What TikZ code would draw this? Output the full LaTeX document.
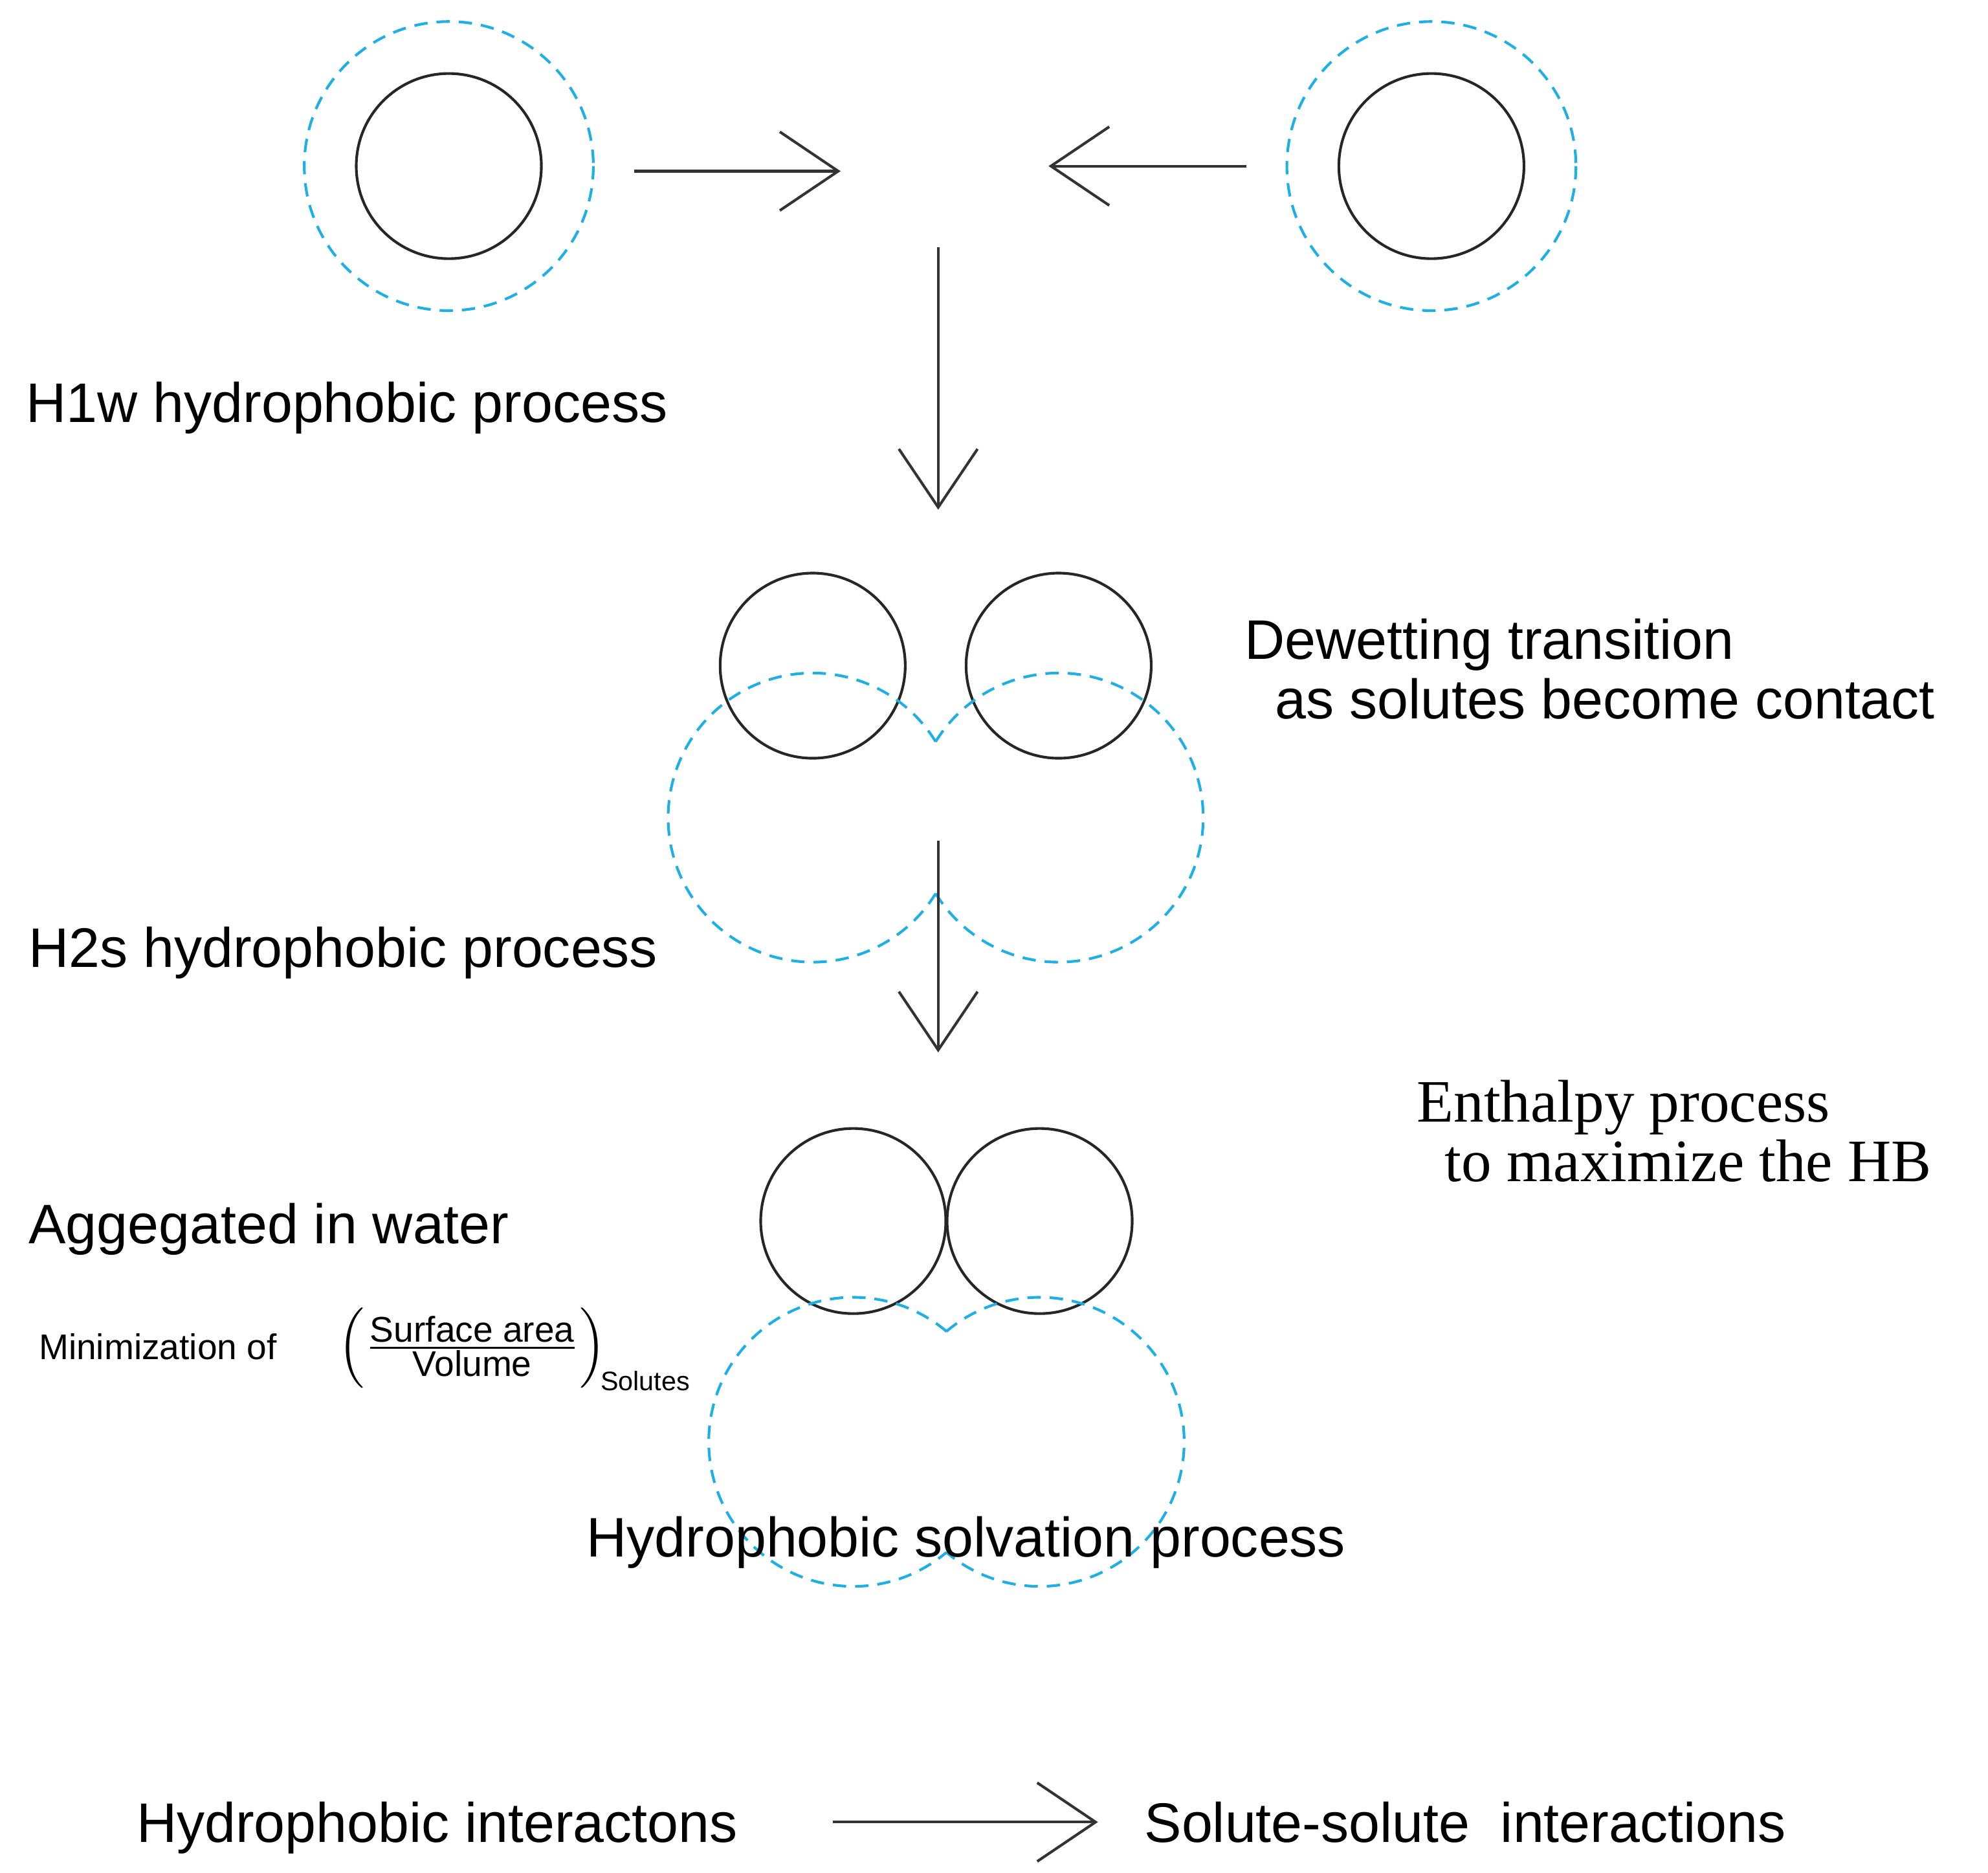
\documentclass[tikz,border=0pt]{standalone}
\usepackage{fontspec}
\setmainfont{Liberation Sans}
\newfontfamily\serifface{Liberation Serif}
\usetikzlibrary{arrows.meta}
\definecolor{shell}{RGB}{30,175,230}
\tikzset{
	solute/.style={draw=black!85,line width=0.6pt},
	hydr/.style={draw=shell,line width=0.6pt,dash pattern=on 3pt off 2pt},
	procarrow/.style={draw=black!80,line width=0.6pt,-{Straight Barb[length=0.46cm,width=0.62cm,line width=0.6pt]}},
	big/.style={font=\fontsize{12.5}{15}\selectfont,anchor=base west,inner sep=0pt},
	small/.style={font=\fontsize{8}{9}\selectfont,inner sep=0pt}
}
\begin{document}
	\begin{tikzpicture}[x=0.01cm,y=-0.01cm]
		\useasboundingbox (0,0) rectangle (1568,1477);
		% separate solutes
		\draw[solute] (354,131) circle (73);
		\draw[hydr] (354,131) circle (114);
		\draw[solute] (1129,131) circle (73);
		\draw[hydr] (1129,131) circle (114);
		\coordinate (L1) at (500,135); \coordinate (L2) at (663,135);
		\coordinate (R1) at (983,131); \coordinate (R2) at (827,131);
		\draw[procarrow] (L1) -- (L2);
		\draw[procarrow] (R1) -- (R2);
		\coordinate (A1) at (740,195); \coordinate (A2) at (740,402);
		\draw[procarrow] (A1) -- (A2);
		\node[big] (h1w) at (20,333) {H1w hydrophobic process};
		% dewetting pair
		\draw[solute] (641,525) circle (73);
		\draw[solute] (835,525) circle (73);
		\draw[hydr] (641,525) ++(31.7:114) arc[start angle=-31.7,end angle=-328.3,radius=114];
		\draw[hydr] (835,525) ++(148.3:114) arc[start angle=-148.3,end angle=148.3,radius=114];
		\node[big] (dew1) at (981,520) {Dewetting transition};
		\node[big] (dew2) at (1005,567) {as solutes become contact};
		\coordinate (B1) at (740,663); \coordinate (B2) at (740,830);
		\draw[procarrow] (B1) -- (B2);
		\node[big] (h2s) at (22,763) {H2s hydrophobic process};
		% aggregated pair
		\draw[solute] (673,963) circle (73);
		\draw[solute] (820,963) circle (73);
		\draw[hydr] (673,963) ++(49.8:114) arc[start angle=-49.8,end angle=-310.2,radius=114];
		\draw[hydr] (820,963) ++(130.2:114) arc[start angle=-130.2,end angle=130.2,radius=114];
		\node[big,font=\serifface\fontsize{13.5}{16}\selectfont] (enth1) at (1117,885) {Enthalpy process};
		\node[big,font=\serifface\fontsize{13.5}{16}\selectfont] (enth2) at (1139,932) {to maximize the HB};
		\node[big] (agg) at (22,981) {Aggegated in water};
		\node[small,anchor=west] (mini) at (30,1062) {Minimization of};
		\node[small,anchor=west] (ratio) at (266,1064) {$\left(\frac{\mbox{Surface area}}{\mbox{Volume}}\right)_{\!\mbox{\fontsize{6}{7}\selectfont Solutes}}$};
		\node[big,anchor=base] (solv) at (762,1228) {Hydrophobic solvation process};
		% summary
		\node[big] (hint) at (107,1453) {Hydrophobic interactons};
		\coordinate (C1) at (657,1437); \coordinate (C2) at (866,1437);
		\draw[procarrow] (C1) -- (C2);
		\node[big] (ssint) at (902,1453) {Solute-solute\ \ interactions};
	\end{tikzpicture}
\end{document}
